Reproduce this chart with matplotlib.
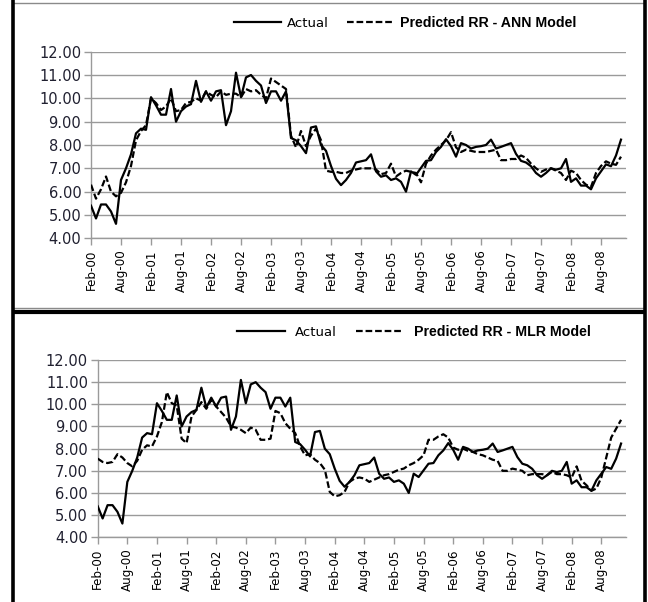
import matplotlib
matplotlib.use("Agg")
import matplotlib.pyplot as plt
from matplotlib.lines import Line2D
import numpy as np

# monthly RR, Feb-00 .. Dec-08
actual = [5.40, 4.85, 5.45, 5.45, 5.15, 4.62, 6.50, 7.00, 7.60, 8.50,
          8.70, 8.65, 10.05, 9.70, 9.30, 9.30, 10.40, 9.00, 9.45, 9.65,
          9.75, 10.75, 9.85, 10.30, 9.90, 10.30, 10.35, 8.85, 9.45, 11.10,
          10.05, 10.90, 11.00, 10.75, 10.55, 9.80, 10.30, 10.30, 9.90, 10.30,
          8.30, 8.20, 7.95, 7.65, 8.75, 8.80, 8.00, 7.75, 7.10, 6.55,
          6.28, 6.50, 6.80, 7.25, 7.30, 7.35, 7.60, 6.87, 6.64, 6.70,
          6.50, 6.57, 6.42, 6.00, 6.87, 6.72, 7.02, 7.32, 7.35, 7.70,
          7.92, 8.25, 7.95, 7.50, 8.08, 8.00, 7.85, 7.92, 7.95, 8.00,
          8.23, 7.85, 7.92, 8.00, 8.08, 7.62, 7.32, 7.25, 7.09, 6.80,
          6.64, 6.80, 7.00, 6.94, 7.00, 7.40, 6.42, 6.57, 6.26, 6.26,
          6.10, 6.57, 6.87, 7.17, 7.09, 7.55, 8.23]

pred_ann = [6.30, 5.70, 6.10, 6.65, 6.00, 5.80, 5.95, 6.40, 7.10, 8.20,
            8.60, 8.85, 10.00, 9.80, 9.50, 9.65, 10.00, 9.45, 9.50, 9.80,
            9.85, 10.00, 9.90, 10.30, 10.15, 10.05, 10.30, 10.15, 10.20, 10.20,
            10.05, 10.40, 10.30, 10.35, 10.15, 10.00, 10.85, 10.70, 10.55, 10.40,
            8.40, 7.90, 8.60, 7.95, 8.40, 8.70, 8.20, 6.90, 6.85, 6.85,
            6.80, 6.80, 6.90, 6.95, 7.00, 7.00, 7.00, 6.95, 6.75, 6.80,
            7.20, 6.65, 6.80, 6.90, 6.85, 6.80, 6.40, 7.20, 7.55, 7.80,
            8.00, 8.20, 8.55, 7.90, 7.70, 7.80, 7.75, 7.70, 7.70, 7.70,
            7.75, 7.80, 7.35, 7.35, 7.40, 7.40, 7.55, 7.45, 7.20, 7.00,
            6.85, 6.95, 7.00, 6.90, 6.80, 6.50, 6.90, 6.80, 6.50, 6.30,
            6.20, 6.80, 7.10, 7.30, 7.20, 7.15, 7.50]

pred_mlr = [7.55, 7.40, 7.35, 7.40, 7.75, 7.60, 7.35, 7.20, 7.45, 7.95,
            8.15, 8.10, 8.55, 9.20, 10.55, 10.05, 9.95, 8.45, 8.25, 9.45,
            9.75, 10.10, 9.80, 10.20, 9.90, 9.65, 9.40, 9.00, 8.95, 8.85,
            8.70, 8.95, 8.85, 8.40, 8.40, 8.45, 9.70, 9.60, 9.15, 8.90,
            8.70, 8.10, 7.70, 7.75, 7.50, 7.35, 7.05, 6.05, 5.85, 5.90,
            6.05, 6.50, 6.65, 6.70, 6.65, 6.50, 6.60, 6.70, 6.80, 6.85,
            6.95, 7.05, 7.10, 7.25, 7.35, 7.50, 7.70, 8.40, 8.40, 8.55,
            8.65, 8.50, 8.05, 7.95, 8.00, 7.90, 7.85, 7.75, 7.70, 7.60,
            7.50, 7.45, 7.00, 7.00, 7.10, 7.05, 7.00, 6.80, 6.85, 6.85,
            6.85, 6.80, 6.95, 6.85, 6.85, 6.80, 6.70, 7.20, 6.55, 6.35,
            6.10, 6.20, 6.70, 7.60, 8.50, 8.90, 9.30]

tick_labels = ["Feb-00", "Aug-00", "Feb-01", "Aug-01", "Feb-02", "Aug-02",
               "Feb-03", "Aug-03", "Feb-04", "Aug-04", "Feb-05", "Aug-05",
               "Feb-06", "Aug-06", "Feb-07", "Aug-07", "Feb-08", "Aug-08"]
y_ticks = [4, 5, 6, 7, 8, 9, 10, 11, 12]

W, H = 648, 602
fig = plt.figure(figsize=(W / 100, H / 100), dpi=100)
fig.patch.set_facecolor("white")

GRID = "#9a9a9a"
LW = 1.6


def px_axes(x0, y0, x1, y1):
    # axes box from pixel corners (top-left origin)
    return fig.add_axes([x0 / W, 1 - y1 / H, (x1 - x0) / W, (y1 - y0) / H])


def draw_panel(ax, pred, pred_label, legend_y, legend_x, text_pad):
    x = np.arange(len(actual))
    ax.plot(x, actual, color="black", lw=LW, label="Actual", zorder=3)
    ax.plot(x, pred, color="black", lw=LW, ls=(0, (3.0, 1.3)), label=pred_label, zorder=3)

    ax.set_xlim(0, 107)
    ax.set_ylim(4, 12)
    ax.set_yticks(y_ticks)
    ax.set_yticklabels([f"{v:.2f}" for v in y_ticks], fontsize=10.5, color="#202030",
                       family="DejaVu Sans")
    ax.set_xticks(np.arange(0, 103, 6))
    ax.set_xticklabels(tick_labels, rotation=90, fontsize=8.6, family="DejaVu Sans")

    ax.grid(axis="y", color=GRID, lw=1.0)
    ax.set_axisbelow(True)
    for s in ("top", "right"):
        ax.spines[s].set_visible(False)
    for s in ("left", "bottom"):
        ax.spines[s].set_color(GRID)
        ax.spines[s].set_linewidth(1.0)
    ax.tick_params(axis="both", colors=GRID, length=5, width=1.0, direction="out")
    ax.tick_params(axis="x", labelcolor="black", pad=3)
    ax.tick_params(axis="y", labelcolor="#202030", pad=2)

    leg = ax.legend(loc="center", bbox_to_anchor=(legend_x / W, 1 - legend_y / H),
                    bbox_transform=fig.transFigure, ncol=2, frameon=False,
                    handlelength=3.6, handletextpad=text_pad, columnspacing=1.4,
                    prop={"family": "DejaVu Sans", "size": 9.5})
    for h in leg.get_lines():
        h.set_linewidth(LW)
    t_act, t_pred = leg.get_texts()
    t_pred.set_fontfamily("Liberation Sans")
    t_pred.set_fontweight("bold")
    t_pred.set_fontsize(10.2)


ax_top = px_axes(91, 51.7, 626, 238.3)
draw_panel(ax_top, pred_ann, "Predicted RR - ANN Model", 23, 405, 0.4)

ax_bot = px_axes(97.7, 360, 626, 537.3)
draw_panel(ax_bot, pred_mlr, "Predicted RR - MLR Model", 332, 414, 0.8)


def fig_line(x0, y0, x1, y1, color, lw):
    fig.add_artist(Line2D([x0 / W, x1 / W], [1 - y0 / H, 1 - y1 / H],
                          transform=fig.transFigure, color=color, lw=lw,
                          solid_capstyle="butt"))


# frames around the two panels
fig_line(13, 2.5, 645, 2.5, "#8a8a8a", 1.0)
fig_line(13, 308, 645, 308, "#8a8a8a", 1.0)
fig_line(13, 0, 13, H, "black", 2.6)
fig_line(645, 0, 645, H, "black", 2.6)
fig_line(13, 312, 645, 312, "black", 3.0)

fig.savefig("out.png", dpi=100, facecolor="white")
